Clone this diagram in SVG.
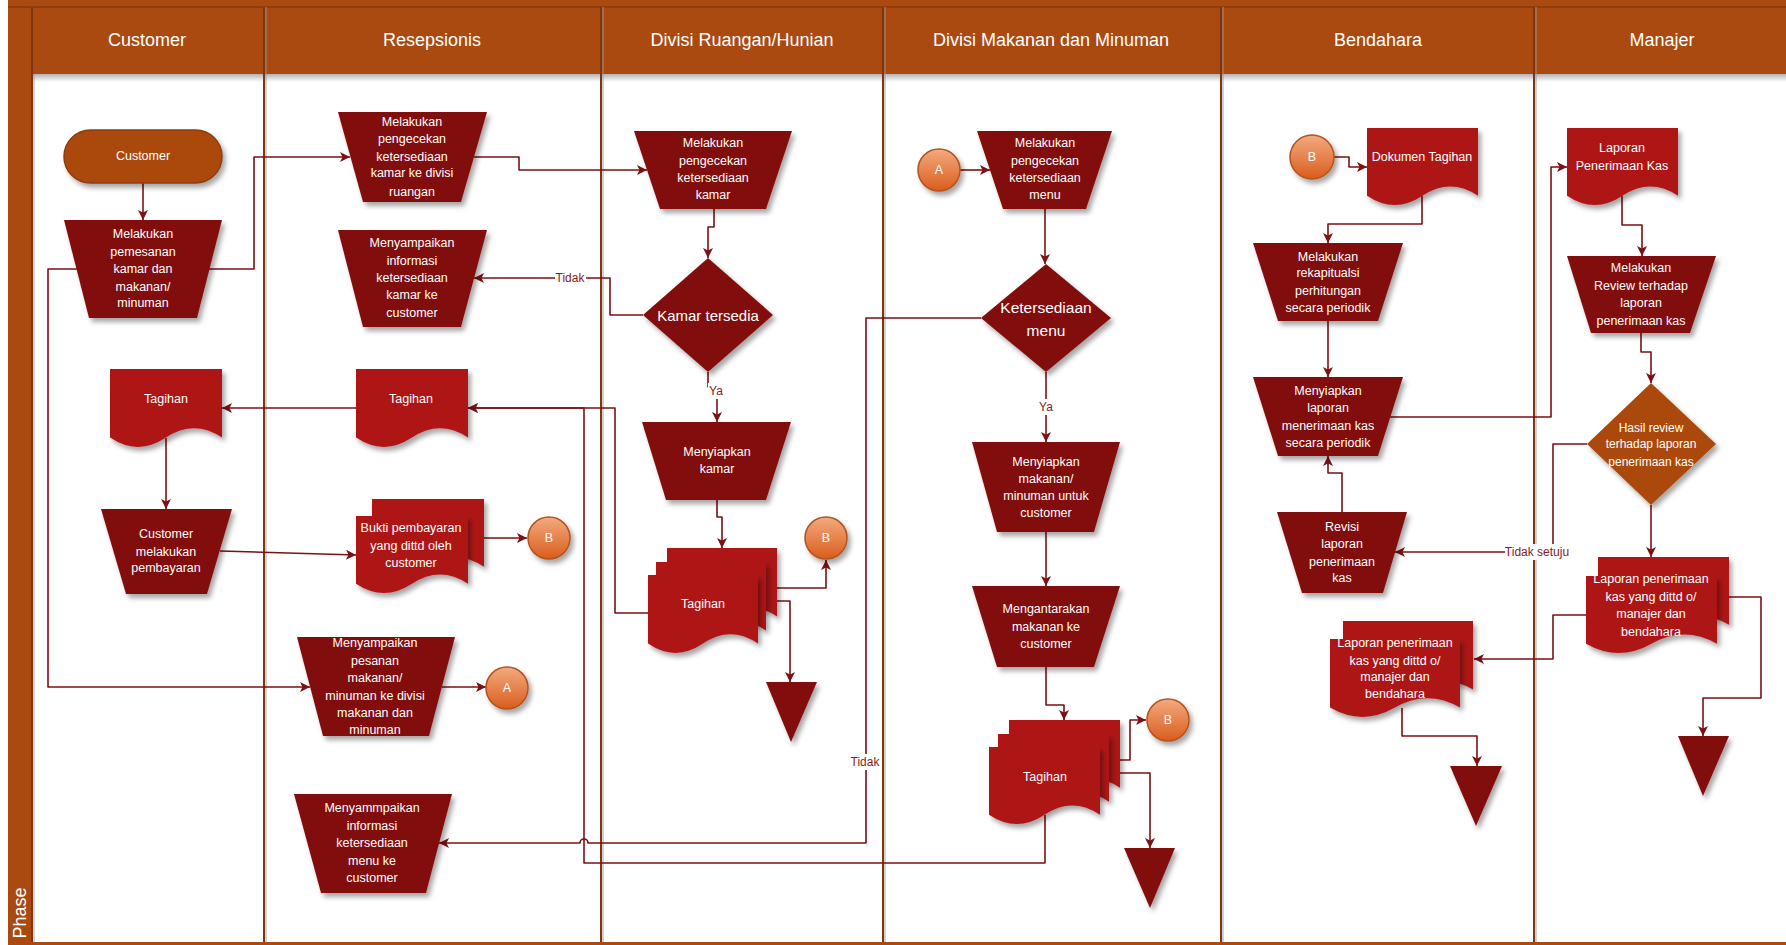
<svg xmlns="http://www.w3.org/2000/svg" width="1786" height="945" viewBox="0 0 1786 945">
<defs>
<style>
.trap,.dia,.tri{fill:#821011}
.doc{fill:#AE1719}
.t{font-family:"Liberation Sans",Arial,sans-serif;font-size:12.5px;fill:#fff;text-anchor:middle;dominant-baseline:central}
.hd{font-family:"Liberation Sans",Arial,sans-serif;font-size:18px;fill:#fff;text-anchor:middle;dominant-baseline:central}
.cn{fill:none;stroke:#7B1113;stroke-width:1.6;stroke-linejoin:round;marker-end:url(#ah)}
.ln{fill:none;stroke:#7B1113;stroke-width:1.6;stroke-linejoin:round}
.lbl{font-family:"Liberation Sans",Arial,sans-serif;font-size:12px;fill:#8B1A1C;text-anchor:middle;dominant-baseline:central}
.sep{stroke:#7F3510;stroke-width:2}
.seps{stroke:#9a9a9a;stroke-width:2;opacity:.45}
.circ{fill:url(#cg);stroke:#B4531B;stroke-width:1.5}
</style>
<marker id="ah" viewBox="0 0 10 10" refX="10" refY="5" markerWidth="11" markerHeight="10" markerUnits="userSpaceOnUse" orient="auto"><path d="M0,0 L10,5 L0,10 L2.5,5 Z" fill="#7B1113"/></marker>
<filter id="sh" x="-20%" y="-20%" width="150%" height="150%"><feDropShadow dx="3" dy="4" stdDeviation="2.5" flood-color="#000" flood-opacity="0.35"/></filter>
<linearGradient id="cg" x1="0" y1="0" x2="0" y2="1"><stop offset="0" stop-color="#F3AA80"/><stop offset="1" stop-color="#D95D1C"/></linearGradient>
<linearGradient id="hs" x1="0" y1="0" x2="0" y2="1"><stop offset="0" stop-color="#000" stop-opacity="0.3"/><stop offset="1" stop-color="#000" stop-opacity="0"/></linearGradient>
</defs>

<g id="frame">
<rect x="0" y="0" width="1786" height="945" fill="#fff"/>
<rect x="8" y="0" width="1778" height="945" fill="#AB4A10"/>
<rect x="32" y="74" width="1754" height="868" fill="#fff"/>
<rect x="32" y="74" width="1754" height="8" fill="url(#hs)"/>
<line x1="8" y1="7" x2="1786" y2="7" stroke="#8A380C" stroke-width="1.5"/>
<line class="seps" x1="34" y1="74" x2="34" y2="942"/>
<line class="seps" x1="266" y1="7" x2="266" y2="942"/>
<line class="seps" x1="603" y1="7" x2="603" y2="942"/>
<line class="seps" x1="885" y1="7" x2="885" y2="942"/>
<line class="seps" x1="1223" y1="7" x2="1223" y2="942"/>
<line class="seps" x1="1536" y1="7" x2="1536" y2="942"/>
<line class="sep" x1="32" y1="7" x2="32" y2="942"/>
<line class="sep" x1="264" y1="7" x2="264" y2="942"/>
<line class="sep" x1="601" y1="7" x2="601" y2="942"/>
<line class="sep" x1="883" y1="7" x2="883" y2="942"/>
<line class="sep" x1="1221" y1="7" x2="1221" y2="942"/>
<line class="sep" x1="1534" y1="7" x2="1534" y2="942"/>
<text class="hd" x="147" y="40">Customer</text>
<text class="hd" x="432" y="40">Resepsionis</text>
<text class="hd" x="742" y="40">Divisi Ruangan/Hunian</text>
<text class="hd" x="1051" y="40">Divisi Makanan dan Minuman</text>
<text class="hd" x="1378" y="40">Bendahara</text>
<text class="hd" x="1662" y="40">Manajer</text>
<text class="hd" x="20" y="913" transform="rotate(-90 20 913)">Phase</text>
</g>

<g id="connectors">
<path class="cn" d="M143,183 V220"/>
<path class="cn" d="M209,269 H254 V157 H350"/>
<path class="cn" d="M77,269 H48 V687 H310"/>
<path class="cn" d="M474,157 H519 V170 H647"/>
<path class="cn" d="M714,209 V227 H708 V258"/>
<path class="cn" d="M643,315 H610 V278 H474"/>
<path class="cn" d="M708,372 V387 H717 V422"/>
<path class="cn" d="M717,500 V517 H722 V548"/>
<path class="cn" d="M777,588 H826 V560"/>
<path class="cn" d="M766,601 H790 V682"/>
<path class="cn" d="M648,613 H615 V408 H468"/>
<path class="cn" d="M960,170 H990"/>
<path class="cn" d="M1045,209 V264"/>
<path class="cn" d="M1046,372 V442"/>
<path class="cn" d="M981,318 H866 V843 H588 A4,4 0 0 0 580,843 H439"/>
<path class="cn" d="M1046,532 V586"/>
<path class="cn" d="M1046,667 V705 H1064 V720"/>
<path class="cn" d="M1120,760 H1130 V720 H1146"/>
<path class="cn" d="M1109,773 H1150 V848"/>
<path class="cn" d="M1045,815 V863 H584 V408 H468"/>
<path class="cn" d="M1334,157 H1349 V167 H1367"/>
<path class="cn" d="M1422,196 V224 H1328 V243"/>
<path class="cn" d="M1328,321 V377"/>
<path class="cn" d="M1390,417 H1551 V167 H1567"/>
<path class="cn" d="M1622,196 V225 H1642 V256"/>
<path class="cn" d="M1641,333 V352 H1651 V383"/>
<path class="cn" d="M1587,444 H1553 V552 H1395"/>
<path class="cn" d="M1342,512 V473 H1328 V456"/>
<path class="cn" d="M1651,505 V557"/>
<path class="cn" d="M1586,615 H1553 V659 H1474"/>
<path class="cn" d="M1729,597 H1761 V698 H1703 V736"/>
<path class="cn" d="M1402,708 V736 H1477 V766"/>
<path class="cn" d="M220,551 L356,555"/>
<path class="cn" d="M484,538 H527"/>
<path class="cn" d="M442,687 H486"/>
<path class="cn" d="M356,408 H222"/>
<path class="cn" d="M166,438 V509"/>
<rect x="555" y="270" width="31" height="16" fill="#fff"/>
<text class="lbl" x="570" y="278">Tidak</text>
<rect x="708" y="383" width="17" height="16" fill="#fff"/>
<text class="lbl" x="716" y="391">Ya</text>
<rect x="1037" y="399" width="17" height="16" fill="#fff"/>
<text class="lbl" x="1046" y="407">Ya</text>
<rect x="850" y="754" width="31" height="16" fill="#fff"/>
<text class="lbl" x="865" y="762">Tidak</text>
<rect x="1505" y="544" width="64" height="16" fill="#fff"/>
<text class="lbl" x="1537" y="552">Tidak setuju</text>
</g>

<g id="n-customer">
<rect x="64" y="130" width="158" height="53" rx="26.5" fill="#AB4A10" stroke="#8E3C0D" stroke-width="1.5" filter="url(#sh)"/>
<text class="t" x="143" y="156">Customer</text>
</g>

<g id="n-pemesanan">
<path class="trap" filter="url(#sh)" d="M64,220 H222 L197,318 H89 Z"/>
<text class="t" x="143"><tspan x="143" y="234">Melakukan</tspan><tspan x="143" y="252">pemesanan</tspan><tspan x="143" y="269">kamar dan</tspan><tspan x="143" y="287">makanan/</tspan><tspan x="143" y="303">minuman</tspan></text>
</g>

<g id="n-cek-kamar-res">
<path class="trap" filter="url(#sh)" d="M338,112 H487 L461,202 H363 Z"/>
<text class="t"><tspan x="412" y="122">Melakukan</tspan><tspan x="412" y="139">pengecekan</tspan><tspan x="412" y="157">ketersediaan</tspan><tspan x="412" y="173">kamar ke divisi</tspan><tspan x="412" y="192">ruangan</tspan></text>
</g>

<g id="n-info-kamar">
<path class="trap" filter="url(#sh)" d="M338,230 H487 L461,327 H363 Z"/>
<text class="t"><tspan x="412" y="243">Menyampaikan</tspan><tspan x="412" y="261">informasi</tspan><tspan x="412" y="278">ketersediaan</tspan><tspan x="412" y="295">kamar ke</tspan><tspan x="412" y="313">customer</tspan></text>
</g>

<g id="n-tagihan-cust">
<path class="doc" filter="url(#sh)" d="M110,369 H222 V437.6 Q194,418.9 166,437.6 T110,437.6 Z"/>
<text class="t" x="166" y="399">Tagihan</text>
</g>

<g id="n-tagihan-res">
<path class="doc" filter="url(#sh)" d="M356,369 H468 V437.6 Q440,418.9 412,437.6 T356,437.6 Z"/>
<text class="t" x="411" y="399">Tagihan</text>
</g>

<g id="n-pembayaran">
<path class="trap" filter="url(#sh)" d="M101,509 H232 L207,594 H126 Z"/>
<text class="t"><tspan x="166" y="534">Customer</tspan><tspan x="166" y="552">melakukan</tspan><tspan x="166" y="568">pembayaran</tspan></text>
</g>

<g id="n-bukti">
<path class="doc" filter="url(#sh)" d="M372,499 H484 V566.8 Q456,548.3 428,566.8 T372,566.8 Z"/>
<path class="doc" filter="url(#sh)" d="M356,516 H468 V583.8 Q440,565.3 412,583.8 T356,583.8 Z"/>
<text class="t"><tspan x="411" y="528">Bukti pembayaran</tspan><tspan x="411" y="546">yang dittd oleh</tspan><tspan x="411" y="563">customer</tspan></text>
</g>

<g id="n-b-res">
<circle class="circ" cx="549" cy="538" r="21" filter="url(#sh)"/>
<text class="t" x="549" y="538">B</text>
</g>

<g id="n-pesanan">
<path class="trap" filter="url(#sh)" d="M297,637 H455 L429,736 H323 Z"/>
<text class="t"><tspan x="375" y="643">Menyampaikan</tspan><tspan x="375" y="661">pesanan</tspan><tspan x="375" y="678">makanan/</tspan><tspan x="375" y="696">minuman ke divisi</tspan><tspan x="375" y="713">makanan dan</tspan><tspan x="375" y="730">minuman</tspan></text>
</g>

<g id="n-a-res">
<circle class="circ" cx="507" cy="688" r="21" filter="url(#sh)"/>
<text class="t" x="507" y="688">A</text>
</g>

<g id="n-info-menu">
<path class="trap" filter="url(#sh)" d="M294,794 H452 L426,893 H321 Z"/>
<text class="t"><tspan x="372" y="808">Menyammpaikan</tspan><tspan x="372" y="826">informasi</tspan><tspan x="372" y="843">ketersediaan</tspan><tspan x="372" y="861">menu ke</tspan><tspan x="372" y="878">customer</tspan></text>
</g>

<g id="n-cek-kamar">
<path class="trap" filter="url(#sh)" d="M634,131 H792 L766,209 H660 Z"/>
<text class="t"><tspan x="713" y="143">Melakukan</tspan><tspan x="713" y="161">pengecekan</tspan><tspan x="713" y="178">ketersediaan</tspan><tspan x="713" y="195">kamar</tspan></text>
</g>

<g id="n-kamar-tersedia">
<path class="dia" filter="url(#sh)" d="M708,258 L773,315 L708,372 L643,315 Z"/>
<text class="t" x="708" y="315" style="font-size:15px">Kamar tersedia</text>
</g>

<g id="n-siap-kamar">
<path class="trap" filter="url(#sh)" d="M642,422 H791 L766,500 H666 Z"/>
<text class="t"><tspan x="717" y="452">Menyiapkan</tspan><tspan x="717" y="469">kamar</tspan></text>
</g>

<g id="n-tagihan-ruang">
<path class="doc" filter="url(#sh)" d="M667,548 H777 V616.6 Q749.5,597.9 722,616.6 T667,616.6 Z"/>
<path class="doc" filter="url(#sh)" d="M656,562 H766 V630.6 Q738.5,611.9 711,630.6 T656,630.6 Z"/>
<path class="doc" filter="url(#sh)" d="M648,575 H758 V643.6 Q730.5,624.9 703,643.6 T648,643.6 Z"/>
<text class="t" x="703" y="604">Tagihan</text>
</g>

<g id="n-b-ruang">
<circle class="circ" cx="826" cy="538" r="21" filter="url(#sh)"/>
<text class="t" x="826" y="538">B</text>
</g>

<g id="n-end-ruang">
<path class="tri" filter="url(#sh)" d="M766,682 H817 L791,742 Z"/>
</g>

<g id="n-a-makan">
<circle class="circ" cx="939" cy="170" r="21" filter="url(#sh)"/>
<text class="t" x="939" y="170">A</text>
</g>

<g id="n-cek-menu">
<path class="trap" filter="url(#sh)" d="M977,131 H1112 L1086,209 H1003 Z"/>
<text class="t"><tspan x="1045" y="143">Melakukan</tspan><tspan x="1045" y="161">pengecekan</tspan><tspan x="1045" y="178">ketersediaan</tspan><tspan x="1045" y="195">menu</tspan></text>
</g>

<g id="n-ketersediaan-menu">
<path class="dia" filter="url(#sh)" d="M1046,264 L1111,318 L1046,372 L981,318 Z"/>
<text class="t" style="font-size:15.5px"><tspan x="1046" y="307">Ketersediaan</tspan><tspan x="1046" y="330">menu</tspan></text>
</g>

<g id="n-siap-makan">
<path class="trap" filter="url(#sh)" d="M972,442 H1120 L1094,532 H997 Z"/>
<text class="t"><tspan x="1046" y="462">Menyiapkan</tspan><tspan x="1046" y="479">makanan/</tspan><tspan x="1046" y="496">minuman untuk</tspan><tspan x="1046" y="513">customer</tspan></text>
</g>

<g id="n-antar">
<path class="trap" filter="url(#sh)" d="M972,586 H1120 L1094,667 H997 Z"/>
<text class="t"><tspan x="1046" y="609">Mengantarakan</tspan><tspan x="1046" y="627">makanan ke</tspan><tspan x="1046" y="644">customer</tspan></text>
</g>

<g id="n-tagihan-makan">
<path class="doc" filter="url(#sh)" d="M1009,720 H1120 V787.8 Q1092.25,769.3 1064.5,787.8 T1009,787.8 Z"/>
<path class="doc" filter="url(#sh)" d="M998,734 H1109 V801.8 Q1081.25,783.3 1053.5,801.8 T998,801.8 Z"/>
<path class="doc" filter="url(#sh)" d="M989,747 H1100 V814.8 Q1072.25,796.3 1044.5,814.8 T989,814.8 Z"/>
<text class="t" x="1045" y="777">Tagihan</text>
</g>

<g id="n-b-makan">
<circle class="circ" cx="1168" cy="720" r="21" filter="url(#sh)"/>
<text class="t" x="1168" y="720">B</text>
</g>

<g id="n-end-makan">
<path class="tri" filter="url(#sh)" d="M1124,848 H1175 L1150,908 Z"/>
</g>

<g id="n-b-bend">
<circle class="circ" cx="1312" cy="157" r="22" filter="url(#sh)"/>
<text class="t" x="1312" y="157">B</text>
</g>

<g id="n-dokumen">
<path class="doc" filter="url(#sh)" d="M1367,128 H1478 V195.8 Q1450.25,177.3 1422.5,195.8 T1367,195.8 Z"/>
<text class="t" x="1422" y="157">Dokumen Tagihan</text>
</g>

<g id="n-rekap">
<path class="trap" filter="url(#sh)" d="M1253,243 H1403 L1378,321 H1278 Z"/>
<text class="t"><tspan x="1328" y="257">Melakukan</tspan><tspan x="1328" y="273">rekapitualsi</tspan><tspan x="1328" y="291">perhitungan</tspan><tspan x="1328" y="308">secara periodik</tspan></text>
</g>

<g id="n-siap-laporan">
<path class="trap" filter="url(#sh)" d="M1253,377 H1403 L1378,456 H1278 Z"/>
<text class="t"><tspan x="1328" y="391">Menyiapkan</tspan><tspan x="1328" y="408">laporan</tspan><tspan x="1328" y="426">menerimaan kas</tspan><tspan x="1328" y="443">secara periodik</tspan></text>
</g>

<g id="n-revisi">
<path class="trap" filter="url(#sh)" d="M1277,512 H1407 L1383,593 H1302 Z"/>
<text class="t"><tspan x="1342" y="527">Revisi</tspan><tspan x="1342" y="544">laporan</tspan><tspan x="1342" y="562">penerimaan</tspan><tspan x="1342" y="578">kas</tspan></text>
</g>

<g id="n-laporan-bend">
<path class="doc" filter="url(#sh)" d="M1343,621 H1473 V689.6 Q1440.5,670.9 1408,689.6 T1343,689.6 Z"/>
<path class="doc" filter="url(#sh)" d="M1330,639 H1460 V707.6 Q1427.5,688.9 1395,707.6 T1330,707.6 Z"/>
<text class="t"><tspan x="1395" y="643">Laporan penerimaan</tspan><tspan x="1395" y="661">kas yang dittd o/</tspan><tspan x="1395" y="677">manajer dan</tspan><tspan x="1395" y="694">bendahara</tspan></text>
</g>

<g id="n-end-bend">
<path class="tri" filter="url(#sh)" d="M1450,766 H1502 L1476,826 Z"/>
</g>

<g id="n-laporan-kas">
<path class="doc" filter="url(#sh)" d="M1567,128 H1678 V195.8 Q1650.25,177.3 1622.5,195.8 T1567,195.8 Z"/>
<text class="t"><tspan x="1622" y="148">Laporan</tspan><tspan x="1622" y="166">Penerimaan Kas</tspan></text>
</g>

<g id="n-review">
<path class="trap" filter="url(#sh)" d="M1567,256 H1716 L1690,333 H1591 Z"/>
<text class="t"><tspan x="1641" y="268">Melakukan</tspan><tspan x="1641" y="286">Review terhadap</tspan><tspan x="1641" y="303">laporan</tspan><tspan x="1641" y="321">penerimaan kas</tspan></text>
</g>

<g id="n-hasil">
<path filter="url(#sh)" fill="#AB4A10" d="M1651,383 L1716,444 L1651,505 L1587,444 Z"/>
<text class="t" style="font-size:12px"><tspan x="1651" y="428">Hasil review</tspan><tspan x="1651" y="444">terhadap laporan</tspan><tspan x="1651" y="462">penerimaan kas</tspan></text>
</g>

<g id="n-laporan-man">
<path class="doc" filter="url(#sh)" d="M1598,557 H1729 V624.8 Q1696.25,606.3 1663.5,624.8 T1598,624.8 Z"/>
<path class="doc" filter="url(#sh)" d="M1586,576 H1717 V643.8 Q1684.25,625.3 1651.5,643.8 T1586,643.8 Z"/>
<text class="t"><tspan x="1651" y="579">Laporan penerimaan</tspan><tspan x="1651" y="597">kas yang dittd o/</tspan><tspan x="1651" y="614">manajer dan</tspan><tspan x="1651" y="632">bendahara</tspan></text>
</g>

<g id="n-end-man">
<path class="tri" filter="url(#sh)" d="M1678,736 H1729 L1703,796 Z"/>
</g>
</svg>
